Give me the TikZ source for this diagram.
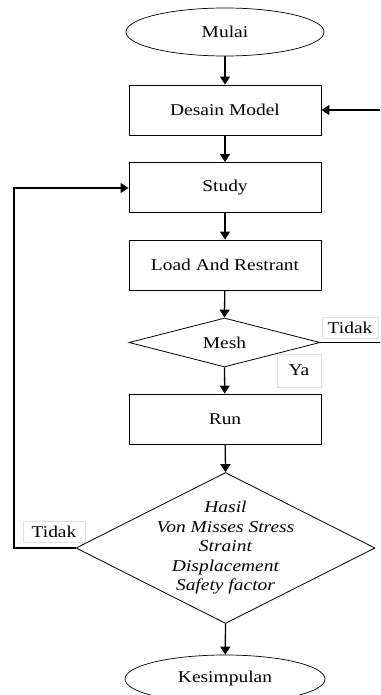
\documentclass[tikz,border=0pt]{standalone}
\usepackage{fontspec}
\setmainfont{Liberation Serif}[FakeStretch=1.18]
\usetikzlibrary{shapes.geometric,arrows.meta}
\begin{document}
\begin{tikzpicture}[x=1pt,y=-1pt,
  font=\fontsize{16.5}{19.5}\selectfont,
  boxnode/.style={draw,line width=0.9pt,minimum width=192pt,minimum height=50pt,inner sep=0pt},
  ovalnode/.style={draw,ellipse,line width=0.7pt,minimum width=198pt,minimum height=48pt,inner sep=0pt},
  decnode/.style={draw,diamond,line width=0.8pt,inner sep=0pt},
  lblnode/.style={draw=black!12,line width=0.5pt,inner sep=0pt},
  flow/.style={line width=1.3pt,-{Triangle[length=8pt,width=10pt]}},
  plain/.style={line width=1.3pt}]
\useasboundingbox (0,0) rectangle (380,695);
\node[ovalnode] (mulai) at (225,32) {Mulai};
\node[boxnode] (desain) at (225,110) {Desain Model};
\node[boxnode] (study) at (225,187.5) {Study};
\node[boxnode] (load) at (225,265) {Load And Restrant};
\node[decnode,minimum width=191pt,minimum height=49pt,label={center:Mesh}] (mesh) at (224.5,342.5) {};
\node[boxnode] (run) at (225,419) {Run};
\node[decnode,minimum width=299pt,minimum height=151pt,
  label={[align=center,font=\fontsize{16.5}{19.5}\selectfont\itshape]center:Hasil\\Von Misses Stress\\Straint\\Displacement\\Safety factor}] (hasil) at (225.5,548) {};
\node[ovalnode,minimum width=200pt] (kes) at (225,679) {Kesimpulan};
\node[lblnode,minimum width=56pt,minimum height=21pt] (tidak1) at (350,327.5) {Tidak};
\node[lblnode,minimum width=44pt,minimum height=33pt] (ya) at (299,370.5) {Ya};
\node[lblnode,minimum width=62pt,minimum height=21pt] (tidak2) at (54,531.5) {Tidak};
\coordinate (inR) at (380,110);
\coordinate (outR) at (380,342.5);
\coordinate (loopB) at (14,548);
\coordinate (loopT) at (14,188);
\draw[flow] (mulai) -- (desain);
\draw[flow] (desain) -- (study);
\draw[flow] (study) -- (load);
\draw[flow] (load) -- (mesh.north);
\draw[flow] (mesh.south) -- (run);
\draw[flow] (run) -- (hasil.north);
\draw[flow] (hasil.south) -- (kes);
\draw[flow] (inR) -- (desain.east);
\draw[plain] (mesh.east) -- (outR);
\draw[flow] (hasil.west) -- (loopB) -- (loopT) -- (study.west |- loopT);
\end{tikzpicture}
\end{document}
